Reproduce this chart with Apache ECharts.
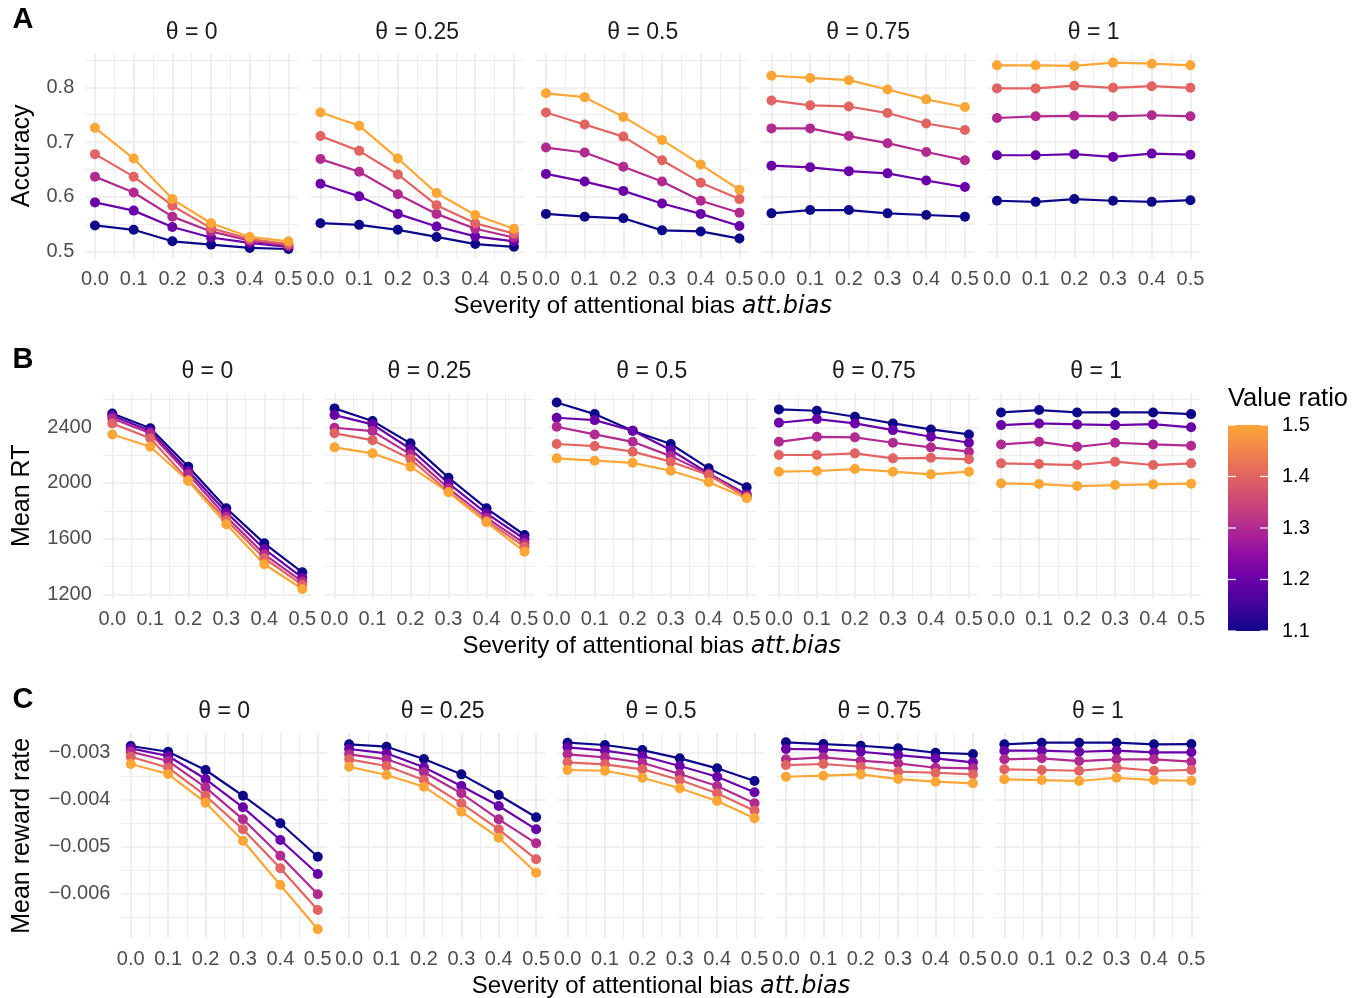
<!DOCTYPE html>
<html>
<head>
<meta charset="utf-8">
<script src="https://cdn.jsdelivr.net/npm/echarts@6/dist/echarts.min.js"></script>
<style>
  html, body { margin: 0; padding: 0; background: #ffffff; }
  #chart { width: 1362px; height: 998px; }
</style>
</head>
<body>
<div id="chart"></div>
<script>
// ---- data -------------------------------------------------------------
const attBias = [0, 0.1, 0.2, 0.3, 0.4, 0.5];
const thetaLabels = ['θ = 0', 'θ = 0.25', 'θ = 0.5', 'θ = 0.75', 'θ = 1'];
const valueRatios = [1.1, 1.2, 1.3, 1.4, 1.5];
const legendTicks = [1.1, 1.2, 1.3, 1.4, 1.5];

// Accuracy, one row per value ratio (1.1 ... 1.5)
const accTheta0 = [
  [0.548, 0.540, 0.519, 0.513, 0.507, 0.505],
  [0.590, 0.575, 0.545, 0.526, 0.516, 0.509],
  [0.637, 0.608, 0.564, 0.537, 0.520, 0.511],
  [0.678, 0.637, 0.584, 0.543, 0.523, 0.514],
  [0.726, 0.670, 0.596, 0.552, 0.527, 0.519]
];
const accTheta025 = [
  [0.552, 0.549, 0.540, 0.527, 0.514, 0.509],
  [0.624, 0.601, 0.569, 0.546, 0.528, 0.519],
  [0.669, 0.646, 0.605, 0.569, 0.542, 0.526],
  [0.711, 0.684, 0.641, 0.585, 0.552, 0.533],
  [0.754, 0.730, 0.670, 0.607, 0.567, 0.542]
];
const accTheta05 = [
  [0.569, 0.564, 0.561, 0.539, 0.537, 0.524],
  [0.642, 0.628, 0.611, 0.588, 0.569, 0.547],
  [0.690, 0.681, 0.655, 0.628, 0.593, 0.571],
  [0.754, 0.732, 0.710, 0.667, 0.626, 0.596],
  [0.789, 0.782, 0.746, 0.704, 0.659, 0.613]
];
const accTheta075 = [
  [0.570, 0.576, 0.576, 0.570, 0.567, 0.564],
  [0.657, 0.654, 0.647, 0.643, 0.630, 0.618],
  [0.725, 0.725, 0.711, 0.698, 0.682, 0.667],
  [0.776, 0.767, 0.765, 0.753, 0.734, 0.722],
  [0.821, 0.817, 0.813, 0.796, 0.778, 0.764]
];
const accTheta1 = [
  [0.593, 0.591, 0.596, 0.593, 0.591, 0.594],
  [0.676, 0.676, 0.678, 0.673, 0.679, 0.677],
  [0.744, 0.747, 0.748, 0.747, 0.749, 0.747],
  [0.798, 0.798, 0.803, 0.799, 0.802, 0.799],
  [0.840, 0.840, 0.839, 0.845, 0.843, 0.840]
];

// Mean RT
const rtTheta0 = [
  [2500, 2393, 2117, 1818, 1566, 1358],
  [2483, 2373, 2086, 1789, 1525, 1319],
  [2464, 2357, 2062, 1757, 1487, 1291],
  [2428, 2321, 2021, 1734, 1459, 1267],
  [2349, 2260, 2014, 1703, 1416, 1238]
];
const rtTheta025 = [
  [2536, 2445, 2285, 2038, 1818, 1626],
  [2488, 2421, 2244, 1997, 1782, 1597],
  [2397, 2373, 2206, 1962, 1750, 1566],
  [2357, 2308, 2172, 1937, 1727, 1542],
  [2256, 2213, 2117, 1933, 1717, 1506]
];
const rtTheta05 = [
  [2579, 2495, 2375, 2280, 2105, 1969],
  [2469, 2452, 2375, 2237, 2069, 1918],
  [2404, 2349, 2296, 2193, 2064, 1906],
  [2280, 2265, 2225, 2153, 2057, 1897],
  [2177, 2160, 2145, 2088, 2005, 1890]
];
const rtTheta075 = [
  [2529, 2519, 2476, 2428, 2385, 2349],
  [2433, 2459, 2428, 2380, 2332, 2289],
  [2296, 2332, 2328, 2289, 2256, 2225],
  [2201, 2201, 2213, 2177, 2181, 2170],
  [2081, 2086, 2100, 2081, 2062, 2081]
];
const rtTheta1 = [
  [2507, 2524, 2507, 2507, 2507, 2495],
  [2416, 2428, 2421, 2416, 2423, 2400],
  [2277, 2296, 2260, 2289, 2277, 2268],
  [2141, 2136, 2129, 2153, 2129, 2141],
  [1997, 1992, 1978, 1985, 1990, 1995]
];

// Mean reward rate
const rrTheta0 = [
  [-0.002857, -0.002979, -0.003368, -0.003915, -0.004502, -0.005213],
  [-0.002906, -0.003070, -0.003560, -0.004162, -0.004857, -0.005581],
  [-0.002979, -0.003177, -0.003737, -0.004417, -0.005191, -0.006013],
  [-0.003085, -0.003319, -0.003915, -0.004630, -0.005460, -0.006347],
  [-0.003240, -0.003453, -0.004064, -0.004872, -0.005815, -0.006757]
];
const rrTheta025 = [
  [-0.002821, -0.002872, -0.003134, -0.003460, -0.003900, -0.004374],
  [-0.002921, -0.003013, -0.003311, -0.003709, -0.004134, -0.004630],
  [-0.003034, -0.003140, -0.003417, -0.003864, -0.004417, -0.004928],
  [-0.003140, -0.003283, -0.003581, -0.004077, -0.004630, -0.005268],
  [-0.003298, -0.003474, -0.003723, -0.004255, -0.004809, -0.005553]
];
const rrTheta05 = [
  [-0.002787, -0.002836, -0.002943, -0.003119, -0.003332, -0.003602],
  [-0.002885, -0.002957, -0.003070, -0.003283, -0.003511, -0.003843],
  [-0.003034, -0.003098, -0.003213, -0.003453, -0.003709, -0.004077],
  [-0.003204, -0.003247, -0.003353, -0.003581, -0.003864, -0.004234],
  [-0.003368, -0.003383, -0.003532, -0.003757, -0.004028, -0.004396]
];
const rrTheta075 = [
  [-0.002779, -0.002815, -0.002851, -0.002906, -0.003000, -0.003028],
  [-0.002921, -0.002928, -0.002979, -0.003049, -0.003119, -0.003204],
  [-0.003140, -0.003098, -0.003170, -0.003226, -0.003319, -0.003332],
  [-0.003262, -0.003240, -0.003298, -0.003404, -0.003426, -0.003460],
  [-0.003511, -0.003489, -0.003460, -0.003560, -0.003617, -0.003651]
];
const rrTheta1 = [
  [-0.002821, -0.002787, -0.002787, -0.002787, -0.002821, -0.002815],
  [-0.002957, -0.002957, -0.002979, -0.002957, -0.002991, -0.002991],
  [-0.003140, -0.003119, -0.003177, -0.003140, -0.003140, -0.003191],
  [-0.003353, -0.003368, -0.003383, -0.003319, -0.003383, -0.003368],
  [-0.003566, -0.003581, -0.003602, -0.003532, -0.003581, -0.003596]
];

// ---- styling / layout -------------------------------------------------
const FONT = '"Liberation Sans", Arial, Helvetica, sans-serif';
const ratioColors = ['#0D0887', '#6A00A8', '#B12A90', '#E16462', '#FCA636'];
// plasma ramp (0 .. 0.8) used for the colour bar
const plasmaStops = ['#0D0887', '#41049D', '#6A00A8', '#8F0DA4', '#B12A90',
                     '#CC4678', '#E16462', '#F1844B', '#FCA636'];
const GRID_COLOR = '#EBEBEB';
const TICK_TEXT = '#4D4D4D';
const TICK_SIZE = 20;
const TITLE_SIZE = 24;
const YTITLE_SIZE = 25;
const STRIP_SIZE = 23;

const rows = [
  {
    letter: 'A', yTitle: 'Accuracy',
    panels: [accTheta0, accTheta025, accTheta05, accTheta075, accTheta1],
    step: 0.1, fmt: v => v.toFixed(1),
    left: 85.3, pitch: 225.5, width: 212.8, top: 53.3, height: 205
  },
  {
    letter: 'B', yTitle: 'Mean RT',
    panels: [rtTheta0, rtTheta025, rtTheta05, rtTheta075, rtTheta1],
    step: 400, fmt: v => String(Math.round(v)),
    left: 102.8, pitch: 222.2, width: 209, top: 393.1, height: 205.2
  },
  {
    letter: 'C', yTitle: 'Mean reward rate',
    panels: [rrTheta0, rrTheta025, rrTheta05, rrTheta075, rrTheta1],
    step: 0.001, fmt: v => v.toFixed(3).replace('-', '\u2212'),
    left: 121.4, pitch: 218.4, width: 205.7, top: 733.0, height: 205.6
  }
];

// ggplot-style 5% expansion of a continuous range
function expand(lo, hi) {
  const pad = (hi - lo) * 0.05;
  return [lo - pad, hi + pad];
}
const xRange = expand(Math.min(...attBias), Math.max(...attBias));

function onStep(v, step) {
  const r = v / step;
  return Math.abs(r - Math.round(r)) < 1e-6;
}

const grids = [], xAxes = [], yAxes = [], series = [], graphics = [];

rows.forEach((row, r) => {
  const all = row.panels.flat(2);
  const yRange = expand(Math.min(...all), Math.max(...all));

  row.panels.forEach((panel, p) => {
    const gi = grids.length;
    const left = row.left + p * row.pitch;
    grids.push({ left: left, top: row.top, width: row.width, height: row.height, containLabel: false });

    const gridLines = {
      splitLine: { show: true, showMinLine: false, showMaxLine: false,
                   lineStyle: { color: GRID_COLOR, width: 1.7 } },
      minorTick: { show: false, splitNumber: 2 },
      minorSplitLine: { show: true, lineStyle: { color: GRID_COLOR, width: 0.9 } },
      axisLine: { show: false },
      axisTick: { show: false }
    };

    xAxes.push(Object.assign({
      type: 'value', gridIndex: gi,
      min: xRange[0], max: xRange[1],
      minInterval: 0.1, maxInterval: 0.1,
      axisLabel: {
        show: true, margin: 11, color: TICK_TEXT, fontSize: TICK_SIZE, fontFamily: FONT,
        showMinLabel: false, showMaxLabel: false,
        formatter: v => onStep(v, 0.1) ? v.toFixed(1) : ''
      }
    }, gridLines));

    yAxes.push(Object.assign({
      type: 'value', gridIndex: gi,
      min: yRange[0], max: yRange[1],
      minInterval: row.step, maxInterval: row.step,
      axisLabel: {
        show: p === 0, margin: 11, color: TICK_TEXT, fontSize: TICK_SIZE, fontFamily: FONT,
        showMinLabel: false, showMaxLabel: false,
        formatter: v => onStep(v, row.step) ? row.fmt(v) : ''
      }
    }, gridLines));

    // connecting lines first, then the points above them
    panel.forEach((vals, k) => {
      series.push({
        type: 'line', xAxisIndex: gi, yAxisIndex: gi,
        data: attBias.map((x, i) => [x, vals[i]]),
        symbol: 'none', z: 2, silent: true,
        lineStyle: { color: ratioColors[k], width: 2.2 }
      });
    });
    panel.forEach((vals, k) => {
      series.push({
        type: 'scatter', xAxisIndex: gi, yAxisIndex: gi,
        data: attBias.map((x, i) => [x, vals[i]]),
        symbolSize: 10, z: 3, silent: true,
        itemStyle: { color: ratioColors[k], opacity: 1 }
      });
    });

    // facet strip label
    graphics.push({
      type: 'text', x: left + row.width / 2, y: row.top - 21,
      style: { text: thetaLabels[p], fontSize: STRIP_SIZE, fontFamily: FONT, fill: '#1A1A1A',
               align: 'center', verticalAlign: 'middle' }
    });
  });

  const rowLeft = row.left;
  const rowRight = row.left + 4 * row.pitch + row.width;
  const bottom = row.top + row.height;

  // x-axis title
  graphics.push({
    type: 'text', x: (rowLeft + rowRight) / 2, y: bottom + 48,
    style: {
      text: '{n|Severity of attentional bias }{i|att.bias}',
      align: 'center', verticalAlign: 'middle',
      rich: {
        n: { fontSize: TITLE_SIZE, fontFamily: FONT, fill: '#000' },
        i: { fontSize: TITLE_SIZE, fontFamily: '"DejaVu Sans", ' + FONT, fontStyle: 'italic', fill: '#000' }
      }
    }
  });

  // y-axis title
  graphics.push({
    type: 'text', x: 22, y: row.top + row.height / 2, rotation: Math.PI / 2,
    style: { text: row.yTitle, fontSize: YTITLE_SIZE, fontFamily: FONT, fill: '#000',
             align: 'center', verticalAlign: 'middle' }
  });

  // row letter
  graphics.push({
    type: 'text', x: 23, y: row.top - 33,
    style: { text: row.letter, fontSize: 29, fontWeight: 'bold', fontFamily: FONT,
             fill: '#000', align: 'center', verticalAlign: 'middle' }
  });
});

// ---- colour bar legend ------------------------------------------------
const bar = { x: 1228, y: 425, w: 40, h: 206 };
const lo = valueRatios[0], hi = valueRatios[valueRatios.length - 1];
const barY = v => bar.y + (hi - v) / (hi - lo) * bar.h;

graphics.push({
  type: 'text', x: 1228, y: 399,
  style: { text: 'Value ratio', fontSize: 25.5, fontFamily: FONT, fill: '#000',
           align: 'left', verticalAlign: 'middle' }
});
graphics.push({
  type: 'rect', shape: { x: bar.x, y: bar.y, width: bar.w, height: bar.h },
  style: {
    fill: new echarts.graphic.LinearGradient(0, 0, 0, 1,
      plasmaStops.slice().reverse().map((c, i, a) => ({ offset: i / (a.length - 1), color: c })))
  }
});
legendTicks.forEach(v => {
  const y = barY(v);
  graphics.push({ type: 'line', shape: { x1: bar.x, y1: y, x2: bar.x + 8, y2: y },
                  style: { stroke: '#fff', lineWidth: 1.2 } });
  graphics.push({ type: 'line', shape: { x1: bar.x + bar.w - 8, y1: y, x2: bar.x + bar.w, y2: y },
                  style: { stroke: '#fff', lineWidth: 1.2 } });
  graphics.push({
    type: 'text', x: bar.x + bar.w + 14, y: y,
    style: { text: v.toFixed(1), fontSize: TICK_SIZE, fontFamily: FONT, fill: '#000',
             align: 'left', verticalAlign: 'middle' }
  });
});

const chart = echarts.init(document.getElementById('chart'), null, { renderer: 'canvas' });
chart.setOption({
  animation: false,
  backgroundColor: '#ffffff',
  grid: grids,
  xAxis: xAxes,
  yAxis: yAxes,
  series: series,
  graphic: graphics
});
</script>
</body>
</html>
